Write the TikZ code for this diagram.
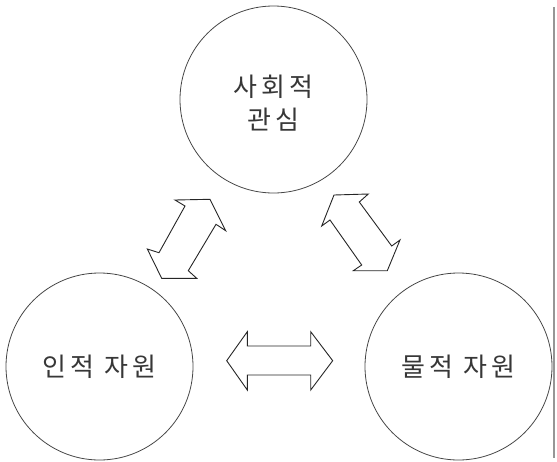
\documentclass[tikz,border=0pt]{standalone}
\usepackage{fontspec}
\usepackage{xcolor}
\usepackage{tikz}
\usetikzlibrary{positioning,calc}
\newfontfamily\kofont[LetterSpace=15]{Noto Sans CJK KR}
\definecolor{krtext}{RGB}{55,55,55}
\definecolor{krline}{RGB}{70,70,70}
\definecolor{krframe}{RGB}{150,150,150}

\begin{document}
\begin{tikzpicture}[
  x=1pt, y=-1pt,
  topic/.style={draw=krline, circle, minimum size=187pt, inner sep=0pt,
                line width=0.8pt, text=krtext, align=center,
                font=\kofont\fontsize{26}{33}\selectfont},
  blockarrow/.style={draw=black!85, fill=white, line width=0.9pt,
                     line join=miter}
]
\useasboundingbox (0,0) rectangle (557,461);

% --- three circles ---
\node[topic, text height=62pt] (social) at (273.5,99.5) {사회적\\관심};
\node[topic] (human)    at (99.5,366.5) {인적 자원};
\node[topic] (material) at (458.5,366.5) {물적 자원};

% --- double block arrows ---
\draw[blockarrow] (175,200) -- (210,199.3) -- (225.7,230.7) -- (216,224.3)
  -- (188.3,270.7) -- (196.7,278.3) -- (161.7,278.3) -- (147.3,249)
  -- (159,252.7) -- (185,206) -- cycle;
\draw[blockarrow] (334,195) -- (368.3,194) -- (359.3,202) -- (391.7,246)
  -- (400,240) -- (387.3,270.7) -- (353.3,270.7) -- (361.7,265)
  -- (330,220) -- (321.7,226) -- cycle;
\draw[blockarrow] (226.7,360.7) -- (247.3,331.7) -- (247.3,346) -- (310.7,346)
  -- (310.7,331.7) -- (332.7,360.7) -- (310.7,390) -- (310.7,375)
  -- (247.3,375) -- (247.3,390) -- cycle;

% --- frame edge ---
\draw[krframe, line width=1.2pt] (554,7) -- (554,458);

\end{tikzpicture}
\end{document}
